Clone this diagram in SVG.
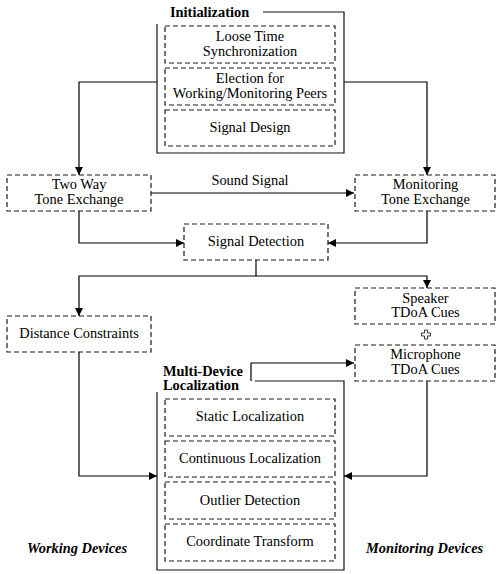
<svg xmlns="http://www.w3.org/2000/svg" width="496" height="574" viewBox="0 0 496 574" font-family="'Liberation Serif', 'Times New Roman', 'DejaVu Serif', serif">
<defs>
<marker id="ah" viewBox="0 0 10 10" refX="10" refY="5" markerWidth="8" markerHeight="8" markerUnits="userSpaceOnUse" orient="auto">
<path d="M0,0 L10,5 L0,10 z" fill="#000"/>
</marker>
</defs>
<style>
.dash{fill:none;stroke:#1a1a1a;stroke-width:1.2;stroke-dasharray:5,3}
.frame{fill:none;stroke:#111;stroke-width:1.2}
.conn{fill:none;stroke:#000;stroke-width:1.2}
.arr{marker-end:url(#ah)}
text{font-family:'Liberation Serif','Times New Roman','DejaVu Serif',serif;font-size:14.4px;fill:#000;text-anchor:middle}
.title{font-weight:bold;text-anchor:start}
.side{font-weight:bold;font-style:italic;text-anchor:start}
</style>
<rect width="496" height="574" fill="#fff"/>

<g id="connectors">
<path class="conn arr" d="M157,82 H79 V175"/>
<path class="conn arr" d="M344,82 H427 V175"/>
<path class="conn arr" d="M151,193 H354"/>
<text x="250" y="185">Sound Signal</text>
<path class="conn arr" d="M79,211 V243 H184"/>
<path class="conn arr" d="M427,211 V243 H328"/>
<path class="conn" d="M256,260 V276"/>
<path class="conn arr" d="M256,276 H79 V316"/>
<path class="conn arr" d="M256,276 H427 V288"/>
<path class="conn arr" d="M251,381 V363 H354"/>
<path class="conn arr" d="M79,352 V476 H157"/>
<path class="conn arr" d="M427,381 V476 H344"/>
</g>

<g id="initialization">
<path class="frame" d="M263,12 H344 V153 H157 V24"/>
<text class="title" x="170" y="17">Initialization</text>
<g id="loose-time">
<rect class="dash" x="165" y="26" width="170" height="37"/>
<text x="250" y="41">Loose Time</text>
<text x="250" y="55.5">Synchronization</text>
</g>
<g id="election">
<rect class="dash" x="165" y="68" width="170" height="37"/>
<text x="250" y="83">Election for</text>
<text x="250" y="97.5">Working/Monitoring Peers</text>
</g>
<g id="signal-design">
<rect class="dash" x="165" y="110" width="170" height="36"/>
<text x="250" y="132">Signal Design</text>
</g>
</g>

<g id="two-way">
<rect class="dash" x="7" y="175" width="144" height="36"/>
<text x="79" y="189">Two Way</text>
<text x="79" y="204">Tone Exchange</text>
</g>

<g id="monitoring-tone">
<rect class="dash" x="355" y="175" width="140" height="36"/>
<text x="425.5" y="189">Monitoring</text>
<text x="425.5" y="204">Tone Exchange</text>
</g>

<g id="signal-detection">
<rect class="dash" x="184" y="224" width="144" height="36"/>
<text x="256" y="246">Signal Detection</text>
</g>

<g id="distance">
<rect class="dash" x="7" y="316" width="144" height="36"/>
<text x="79" y="338">Distance Constraints</text>
</g>

<g id="speaker">
<rect class="dash" x="355" y="288" width="140" height="36"/>
<text x="425.5" y="302.5">Speaker</text>
<text x="425.5" y="317">TDoA Cues</text>
</g>

<g id="plus">
<path d="M424.5,330 H427.5 V333 H430.5 V336 H427.5 V339 H424.5 V336 H421.5 V333 H424.5 Z" fill="#fff" stroke="#222" stroke-width="0.9"/>
</g>

<g id="microphone">
<rect class="dash" x="355" y="345" width="140" height="36"/>
<text x="425.5" y="359">Microphone</text>
<text x="425.5" y="373.5">TDoA Cues</text>
</g>

<g id="multi-device">
<path class="frame" d="M255,381 H344 V570 H157 V392"/>
<text class="title" x="163" y="375.5">Multi-Device</text>
<text class="title" x="163" y="390">Localization</text>
<g id="static">
<rect class="dash" x="165" y="399" width="170" height="37"/>
<text x="250" y="421">Static Localization</text>
</g>
<g id="continuous">
<rect class="dash" x="165" y="441" width="170" height="36"/>
<text x="250" y="463">Continuous Localization</text>
</g>
<g id="outlier">
<rect class="dash" x="165" y="482" width="170" height="37"/>
<text x="250" y="505">Outlier Detection</text>
</g>
<g id="coordinate">
<rect class="dash" x="165" y="524" width="170" height="37"/>
<text x="250" y="546">Coordinate Transform</text>
</g>
</g>

<text class="side" x="27" y="553">Working Devices</text>
<text class="side" x="366" y="553">Monitoring Devices</text>
</svg>
